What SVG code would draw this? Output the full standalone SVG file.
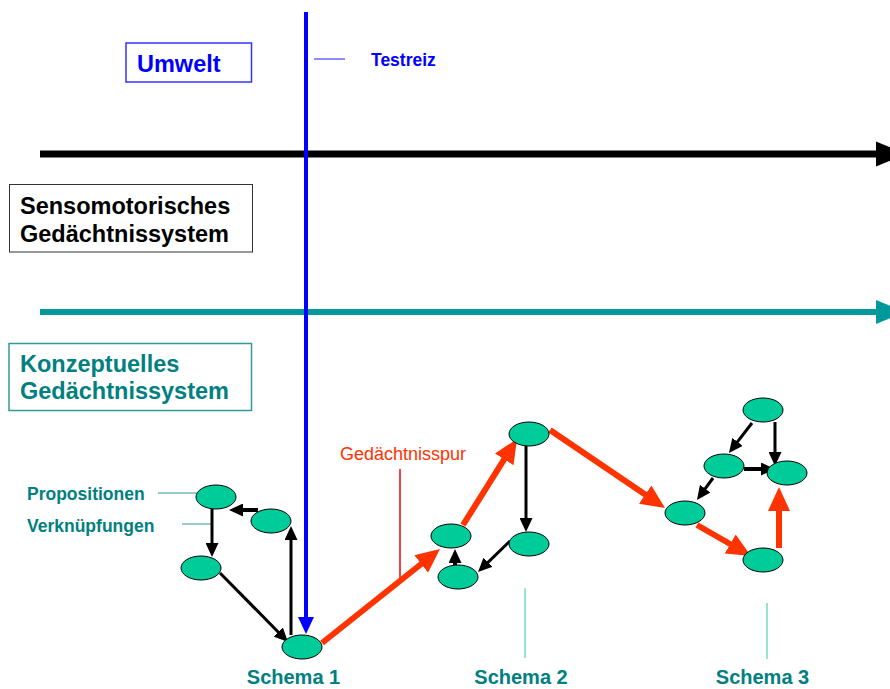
<svg xmlns="http://www.w3.org/2000/svg" width="890" height="689" viewBox="0 0 890 689">
<style>
text{font-family:"Liberation Sans",Arial,sans-serif}
.b{font-weight:bold}
.teal{fill:#008080}
.node ellipse{fill:#00cc99;stroke:#000;stroke-width:1}
.blk{stroke:#000;stroke-width:3;fill:none}
.blk4{stroke:#000;stroke-width:4;fill:none}
.red{stroke:#ff3300;stroke-width:6;fill:none}
.lbl{stroke:#339999;stroke-width:1}
</style>
<defs>
<marker id="ab" markerUnits="userSpaceOnUse" markerWidth="14" markerHeight="13" refX="8" refY="6.5" orient="auto"><path d="M0,0 L14,6.5 L0,13 z" fill="#000"/></marker>
<marker id="ar" markerUnits="userSpaceOnUse" markerWidth="24" markerHeight="22" refX="12" refY="11" orient="auto"><path d="M0,0 L24,11 L0,22 z" fill="#ff3300"/></marker>
<marker id="abl" markerUnits="userSpaceOnUse" markerWidth="17" markerHeight="16" refX="8" refY="8" orient="auto"><path d="M0,0 L17,8 L0,16 z" fill="#0000ff"/></marker>
</defs>
<rect width="890" height="689" fill="#fff"/>

<g id="umwelt">
<rect x="126" y="43" width="125.5" height="39" fill="#fff" stroke="#3333ff" stroke-width="1.5"/>
<text x="137" y="72" class="b" font-size="23.5" fill="#0000ff">Umwelt</text>
</g>
<g id="sensomotorisch">
<rect x="9.5" y="184.5" width="243" height="67.5" fill="#fff" stroke="#333" stroke-width="1"/>
<text x="20" y="214" class="b" font-size="23.5" fill="#000">Sensomotorisches</text>
<text x="20" y="242" class="b" font-size="23.5" fill="#000">Gedächtnissystem</text>
</g>
<g id="konzeptuell">
<rect x="9" y="343.5" width="242.5" height="67" fill="#fff" stroke="#339999" stroke-width="1.5"/>
<text x="20" y="372" class="b teal" font-size="23.5">Konzeptuelles</text>
<text x="20" y="399" class="b teal" font-size="23.5">Gedächtnissystem</text>
</g>

<g id="labels">
<text x="371" y="66" class="b" font-size="17.5" fill="#0000ff">Testreiz</text>
<line x1="314" y1="59" x2="345" y2="59" stroke="#6666ff" stroke-width="1.5"/>
<text x="27" y="500" class="b teal" font-size="17.5">Propositionen</text>
<line x1="158" y1="493" x2="197" y2="493" class="lbl"/>
<text x="27" y="532" class="b teal" font-size="17.5">Verknüpfungen</text>
<line x1="182" y1="524" x2="211" y2="524" class="lbl"/>
<text x="340" y="460" font-size="18" fill="#ff3300">Gedächtnisspur</text>
<line x1="400" y1="469" x2="400" y2="579" stroke="#ff0000" stroke-width="1.5"/>
<line x1="525" y1="588" x2="525" y2="658" stroke="#33cc99" stroke-width="1"/>
<line x1="767" y1="603" x2="767" y2="659" stroke="#33cc99" stroke-width="1"/>
<text x="293.5" y="684" class="b teal" font-size="20" text-anchor="middle">Schema 1</text>
<text x="521" y="684" class="b teal" font-size="20" text-anchor="middle">Schema 2</text>
<text x="762.5" y="684" class="b teal" font-size="20" text-anchor="middle">Schema 3</text>
</g>

<g id="connectors">
<line x1="40" y1="154" x2="880" y2="154" stroke="#000" stroke-width="7"/>
<polygon points="876,141.5 906,154 876,166.5" fill="#000"/>
<line x1="40" y1="312" x2="880" y2="312" stroke="#009999" stroke-width="6"/>
<polygon points="876,300 905,312 876,324" fill="#009999"/>

<line x1="212" y1="509" x2="212" y2="551" class="blk" marker-end="url(#ab)"/>
<line x1="258" y1="510" x2="235" y2="510" class="blk4" marker-end="url(#ab)"/>
<line x1="291" y1="635" x2="291" y2="532" class="blk" marker-end="url(#ab)"/>
<line x1="220" y1="573" x2="283.8" y2="637.7" class="blk" stroke-width="2.5" marker-end="url(#ab)"/>
<line x1="526" y1="445" x2="526" y2="526" class="blk" marker-end="url(#ab)"/>
<line x1="510" y1="541" x2="482.3" y2="567.8" class="blk" stroke-width="2.5" marker-end="url(#ab)"/>
<line x1="455" y1="565" x2="455" y2="555" class="blk4" stroke-width="5" marker-end="url(#ab)"/>
<line x1="752" y1="423" x2="732.6" y2="448.2" class="blk" stroke-width="2.5" marker-end="url(#ab)"/>
<line x1="775" y1="422" x2="775" y2="460" class="blk" marker-end="url(#ab)"/>
<line x1="744" y1="469" x2="769" y2="469" class="blk4" marker-end="url(#ab)"/>
<line x1="713" y1="478" x2="700.5" y2="495.1" class="blk" stroke-width="2.5" marker-end="url(#ab)"/>

<line x1="322" y1="643" x2="430.6" y2="556.5" class="red" marker-end="url(#ar)"/>
<line x1="463" y1="525" x2="510.6" y2="449.2" class="red" marker-end="url(#ar)"/>
<line x1="550" y1="430" x2="655.1" y2="501.3" class="red" marker-end="url(#ar)"/>
<line x1="697" y1="525" x2="740.6" y2="550" class="red" marker-end="url(#ar)"/>
<line x1="779" y1="548" x2="779" y2="499" class="red" marker-end="url(#ar)"/>

<line x1="306" y1="12" x2="306" y2="625" stroke="#0000ff" stroke-width="4" marker-end="url(#abl)"/>
</g>

<g id="n1" class="node"><ellipse cx="216" cy="497" rx="20" ry="12"/></g>
<g id="n2" class="node"><ellipse cx="271" cy="521" rx="20" ry="12"/></g>
<g id="n3" class="node"><ellipse cx="201" cy="568" rx="20" ry="12"/></g>
<g id="n4" class="node"><ellipse cx="302" cy="647" rx="20" ry="12"/></g>
<g id="n5" class="node"><ellipse cx="451" cy="536" rx="20" ry="12"/></g>
<g id="n6" class="node"><ellipse cx="458" cy="577" rx="20" ry="12"/></g>
<g id="n7" class="node"><ellipse cx="529" cy="434" rx="20" ry="12"/></g>
<g id="n8" class="node"><ellipse cx="529" cy="544" rx="20" ry="12"/></g>
<g id="n9" class="node"><ellipse cx="685" cy="513" rx="20" ry="12"/></g>
<g id="n10" class="node"><ellipse cx="763" cy="410" rx="20" ry="12"/></g>
<g id="n11" class="node"><ellipse cx="724" cy="466" rx="20" ry="12"/></g>
<g id="n12" class="node"><ellipse cx="787" cy="473" rx="20" ry="12"/></g>
<g id="n13" class="node"><ellipse cx="763" cy="560" rx="20" ry="12"/></g>
</svg>
